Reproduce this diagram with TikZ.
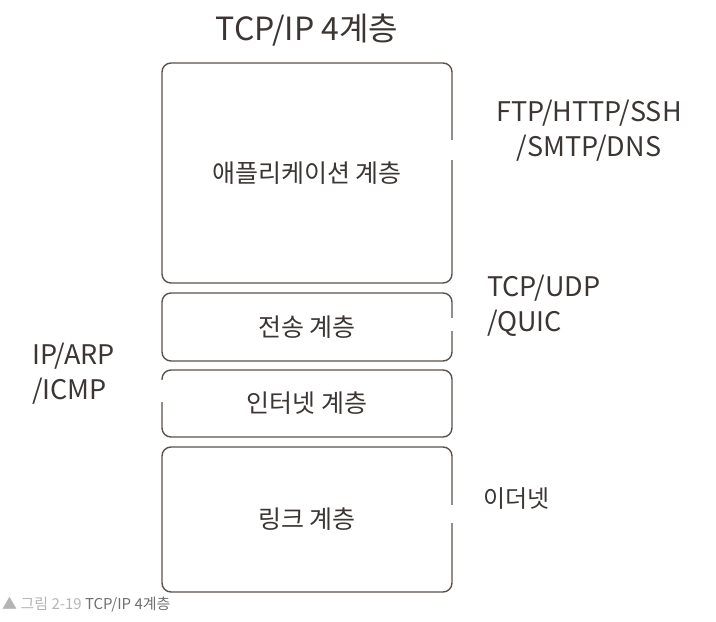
\documentclass[tikz,border=0pt]{standalone}
\usepackage{fontspec}
\setmainfont{Noto Sans CJK KR}
\usetikzlibrary{positioning}
\definecolor{cInk}  {HTML}{3B3633}
\definecolor{cLine} {HTML}{5A524D}
\definecolor{cCapA} {HTML}{B4B4B4}
\definecolor{cCapB} {HTML}{707070}

\begin{document}
\begin{tikzpicture}[x=1pt, y=-1pt,
      layer/.style = {draw=cLine, line width=1.4pt, rounded corners=9pt, minimum width=290pt, text=cInk, font=\fontsize{25}{30}\selectfont, inner sep=0pt, outer sep=0pt},
      proto/.style = {text=cInk, font=\fontsize{27}{35}\selectfont, inner sep=0pt},
      gap/.style   = {fill=white, draw=none} ]
    \useasboundingbox (0,0) rectangle (716,622);

    \node[text=cInk, font=\fontsize{32}{36}\selectfont] (title) at (307,30) {TCP/IP 4계층};

    \node[layer, minimum height=220pt]                 (app)  at (307,173) {애플리케이션 계층};
    \node[layer, minimum height=68pt, below=10pt of app]  (tr)   {전송 계층};
    \node[layer, minimum height=67pt, below=9pt of tr]    (inet) {인터넷 계층};
    \node[layer, minimum height=145pt, below=10pt of inet] (link) {링크 계층};

    % little breaks in the outlines next to the labels
    \path[gap] (448,140) rectangle (456,160);
    \path[gap] (448,318) rectangle (456,331);
    \path[gap] (157,380) rectangle (165,402);
    \path[gap] (448,505) rectangle (456,523);

    \node[proto, align=center]             (appP)  at (589,131) {FTP/HTTP/SSH\\/SMTP/DNS};
    \node[proto, align=left, anchor=west]  (trP)   at (487,306) {TCP/UDP\\/QUIC};
    \node[proto, align=left, anchor=west]  (inetP) at (32,374)  {IP/ARP\\/ICMP};
    \node[proto, anchor=west, font=\fontsize{24}{28}\selectfont] (linkP) at (483,499) {이더넷};

    \node[anchor=west, inner sep=0pt, font=\fontsize{15}{17}\selectfont] (cap) at (2,605)
      {\textcolor{cCapA}{▲ 그림 2-19} \textcolor{cCapB}{TCP/IP 4계층}};
  \end{tikzpicture}
\end{document}
